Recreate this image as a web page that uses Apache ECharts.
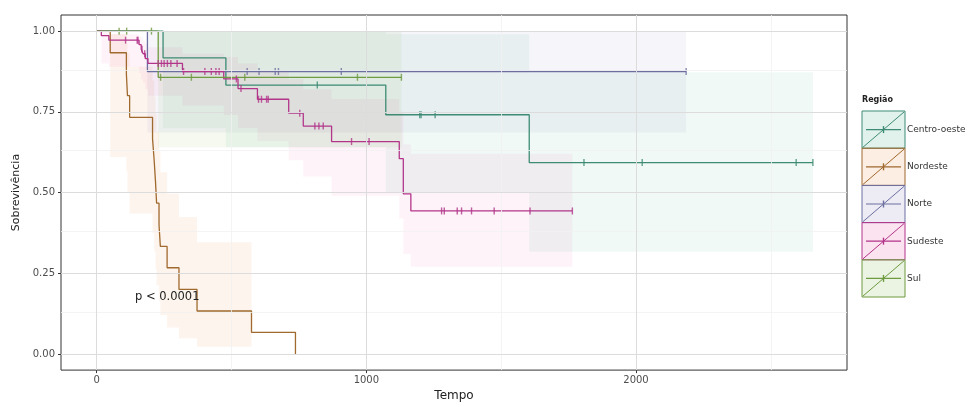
<!DOCTYPE html>
<html><head><meta charset="utf-8">
<script src="https://cdn.jsdelivr.net/npm/echarts@6/dist/echarts.min.js"></script>
<style>html,body{margin:0;padding:0;background:#fff}#c{width:979px;height:407px}</style>
</head><body><div id="c"></div>
<script>
// ---------- data ----------
const regions = ['Centro-oeste', 'Nordeste', 'Norte', 'Sudeste', 'Sul'];
const xTicks = [0, 1000, 2000];
const xMinor = [500, 1500, 2500];
const yTicks = [0, 0.25, 0.5, 0.75, 1];
const yMinor = [0.125, 0.375, 0.625, 0.875];
const pText = 'p < 0.0001';

// Centro-oeste
const coTime = [0, 246, 479, 1072, 1604, 2656];
const coSurv = [1, 0.917, 0.833, 0.741, 0.593, 0.593];
const coCens = [818, 1198, 1203, 1255, 1807, 2023, 2594, 2656];
const coBandStart = [246, 479, 1072, 1604];
const coBandLow = [0.70, 0.64, 0.50, 0.317];
const coBandHigh = [1.0, 1.0, 0.99, 0.873];
const coBandEnd = 2656;

// Nordeste
const neTime = [0, 50, 110, 114, 122, 207, 213, 218, 222, 231, 236, 261, 305, 372, 574, 737];
const neSurv = [1, 0.933, 0.867, 0.8, 0.733, 0.667, 0.6, 0.533, 0.467, 0.4, 0.333, 0.267, 0.2, 0.133, 0.067, 0];
const neCens = [];
const neBandStart = [50, 110, 114, 122, 207, 213, 218, 222, 231, 236, 261, 305, 372];
const neBandLow = [0.61, 0.565, 0.50, 0.435, 0.375, 0.318, 0.263, 0.213, 0.164, 0.121, 0.082, 0.049, 0.022];
const neBandHigh = [0.99, 0.965, 0.931, 0.89, 0.846, 0.797, 0.744, 0.688, 0.628, 0.563, 0.496, 0.424, 0.346];
const neBandEnd = 574;

// Norte
const noTime = [0, 188, 2186];
const noSurv = [1, 0.875, 0.875];
const noCens = [558, 602, 662, 674, 907, 2186];
const noBandStart = [188];
const noBandLow = [0.686];
const noBandHigh = [1.0];
const noBandEnd = 2186;

// Sudeste
const seTime = [0, 17, 45, 157, 165, 172, 180, 190, 318, 471, 524, 596, 712, 766, 871, 1122, 1137, 1165, 1764];
const seSurv = [1, 0.986, 0.972, 0.958, 0.944, 0.93, 0.915, 0.9, 0.875, 0.852, 0.822, 0.789, 0.746, 0.706, 0.658, 0.605, 0.496, 0.443, 0.443];
const seCens = [107, 150, 153, 168, 178, 228, 240, 250, 262, 275, 298, 322, 401, 425, 442, 454, 518, 535, 600, 611, 630, 636, 753, 809, 824, 840, 945, 1010, 1279, 1289, 1337, 1353, 1390, 1474, 1607, 1764];
const seBandStart = [17, 45, 157, 165, 172, 180, 190, 318, 471, 524, 596, 712, 766, 871, 1122, 1137, 1165];
const seBandLow = [0.90, 0.89, 0.87, 0.85, 0.84, 0.82, 0.80, 0.77, 0.74, 0.70, 0.66, 0.60, 0.55, 0.49, 0.42, 0.31, 0.27];
const seBandHigh = [0.998, 0.99, 0.985, 0.98, 0.97, 0.96, 0.95, 0.93, 0.92, 0.90, 0.88, 0.85, 0.82, 0.79, 0.75, 0.65, 0.62];
const seBandEnd = 1764;

// Sul
const suTime = [0, 228, 1130];
const suSurv = [1, 0.857, 0.857];
const suCens = [83, 111, 203, 237, 351, 549, 967, 1130];
const suBandStart = [228];
const suBandLow = [0.64];
const suBandHigh = [1.0];
const suBandEnd = 1130;

// ---------- styles ----------
const lineColors = ['#3d8b74', '#a0692e', '#6c6fa0', '#b2358a', '#6e9a40'];
const fillColors = ['rgba(27,158,119,0.065)', 'rgba(235,120,30,0.08)', 'rgba(117,112,179,0.07)', 'rgba(231,41,138,0.055)', 'rgba(102,166,30,0.065)'];
const keyFills = ['rgba(27,158,119,0.13)', 'rgba(235,120,30,0.13)', 'rgba(117,112,179,0.13)', 'rgba(231,41,138,0.13)', 'rgba(102,166,30,0.13)'];
const FONT = 'DejaVu Sans';

const groups = [
  {t: coTime, s: coSurv, c: coCens, bs: coBandStart, bl: coBandLow, bh: coBandHigh, be: coBandEnd},
  {t: neTime, s: neSurv, c: neCens, bs: neBandStart, bl: neBandLow, bh: neBandHigh, be: neBandEnd},
  {t: noTime, s: noSurv, c: noCens, bs: noBandStart, bl: noBandLow, bh: noBandHigh, be: noBandEnd},
  {t: seTime, s: seSurv, c: seCens, bs: seBandStart, bl: seBandLow, bh: seBandHigh, be: seBandEnd},
  {t: suTime, s: suSurv, c: suCens, bs: suBandStart, bl: suBandLow, bh: suBandHigh, be: suBandEnd}
];

function stepValue(times, surv, x) {
  let v = surv[0];
  for (let i = 0; i < times.length; i++) { if (times[i] <= x) v = surv[i]; }
  return v;
}

const series = [];
// grid lines (drawn through the axes' scales)
series.push({
  type: 'line', data: [[0, 1]], symbol: 'none', lineStyle: {opacity: 0}, z: 0, silent: true,
  markLine: {
    silent: true, symbol: 'none', label: {show: false}, animation: false,
    data: [
      ...xMinor.map(v => ({xAxis: v, lineStyle: {color: '#f1f1f1', width: 0.8, type: 'solid'}})),
      ...yMinor.map(v => ({yAxis: v, lineStyle: {color: '#f1f1f1', width: 0.8, type: 'solid'}})),
      ...xTicks.map(v => ({xAxis: v, lineStyle: {color: '#dcdcdc', width: 1, type: 'solid'}})),
      ...yTicks.map(v => ({yAxis: v, lineStyle: {color: '#dcdcdc', width: 1, type: 'solid'}}))
    ]
  }
});

groups.forEach((g, k) => {
  series.push({
    type: 'custom', name: regions[k] + ' IC', z: 1, silent: true, clip: true,
    data: [[g.bs[0], g.bl[0]]],
    renderItem: function (params, api) {
      const up = [], lo = [];
      for (let i = 0; i < g.bs.length; i++) {
        const t0 = g.bs[i], t1 = i + 1 < g.bs.length ? g.bs[i + 1] : g.be;
        up.push(api.coord([t0, g.bh[i]]), api.coord([t1, g.bh[i]]));
        lo.push(api.coord([t0, g.bl[i]]), api.coord([t1, g.bl[i]]));
      }
      return {type: 'polygon', shape: {points: up.concat(lo.reverse())}, style: {fill: fillColors[k]}};
    }
  });
});

groups.forEach((g, k) => {
  series.push({
    type: 'line', name: regions[k], step: 'end', z: 3, showSymbol: false, symbol: 'none',
    data: g.t.map((t, i) => [t, g.s[i]]),
    lineStyle: {color: lineColors[k], width: 1.3}, itemStyle: {color: lineColors[k]}
  });
  series.push({
    type: 'scatter', name: regions[k] + ' censura', z: 4,
    data: g.c.map(t => [t, stepValue(g.t, g.s, t)]),
    symbol: 'rect', symbolSize: [1.4, 7],
    itemStyle: {color: lineColors[k]}
  });
});

// legend drawn as graphic
const graphic = [{type: 'text', left: 862, top: 96, style: {text: 'Região', font: 'bold 8px ' + FONT, fill: '#222'}}];
regions.forEach((r, i) => {
  const y0 = 111 + i * 37.2, x0 = 862, w = 43, h = 37.2;
  graphic.push({type: 'rect', shape: {x: x0, y: y0, width: w, height: h}, style: {fill: keyFills[i], stroke: lineColors[i], lineWidth: 1}});
  graphic.push({type: 'line', shape: {x1: x0 + 1, y1: y0 + h - 1, x2: x0 + w - 1, y2: y0 + 1}, style: {stroke: lineColors[i], lineWidth: 1}});
  graphic.push({type: 'line', shape: {x1: x0 + 4, y1: y0 + h / 2, x2: x0 + w - 4, y2: y0 + h / 2}, style: {stroke: lineColors[i], lineWidth: 1.2}});
  graphic.push({type: 'line', shape: {x1: x0 + w / 2, y1: y0 + h / 2 - 3.5, x2: x0 + w / 2, y2: y0 + h / 2 + 3.5}, style: {stroke: lineColors[i], lineWidth: 1.4}});
  graphic.push({type: 'text', x: 907, y: y0 + h / 2, style: {text: r, font: '9px ' + FONT, fill: '#333', verticalAlign: 'middle'}});
});
graphic.push({type: 'text', x: 135, y: 297, style: {text: pText, font: '11.5px ' + FONT, fill: '#222', verticalAlign: 'middle'}, z: 10});

const chart = echarts.init(document.getElementById('c'), null, {renderer: 'canvas'});
chart.setOption({
  animation: false,
  backgroundColor: '#ffffff',
  grid: {left: 61, top: 15, right: 132, bottom: 27, show: true, borderColor: '#333', borderWidth: 1, backgroundColor: '#fff', containLabel: false},
  xAxis: {
    type: 'value', min: -132.5, max: 2782.5,
    axisLine: {show: false, onZero: false},
    axisTick: {show: true, customValues: xTicks, length: 3, lineStyle: {color: '#333'}},
    axisLabel: {customValues: xTicks, color: '#4d4d4d', fontSize: 10, fontFamily: FONT, margin: 5, formatter: v => String(v)},
    splitLine: {show: false},
    name: 'Tempo', nameLocation: 'middle', nameGap: 16,
    nameTextStyle: {color: '#222', fontSize: 12, fontFamily: FONT}
  },
  yAxis: {
    type: 'value', min: -0.05, max: 1.05,
    axisLine: {show: false, onZero: false},
    axisTick: {show: true, customValues: yTicks, length: 3, lineStyle: {color: '#333'}},
    axisLabel: {customValues: yTicks, color: '#4d4d4d', fontSize: 10, fontFamily: FONT, margin: 6, formatter: v => v.toFixed(2)},
    splitLine: {show: false},
    name: 'Sobrevivência', nameLocation: 'middle', nameGap: 38, nameRotate: 90,
    nameTextStyle: {color: '#222', fontSize: 11, fontFamily: FONT}
  },
  graphic: graphic,
  series: series
});
</script></body></html>
